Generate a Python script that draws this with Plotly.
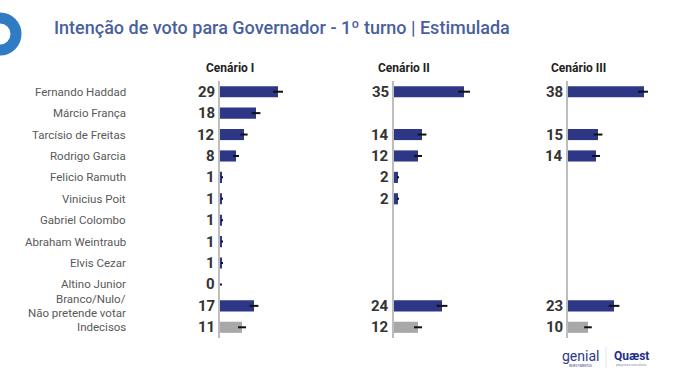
import plotly.graph_objects as go

W, H = 680, 383

categories = ["Fernando Haddad", "Márcio França", "Tarcísio de Freitas", "Rodrigo Garcia",
              "Felicio Ramuth", "Vinicius Poit", "Gabriel Colombo", "Abraham Weintraub",
              "Elvis Cezar", "Altino Junior", "Branco/Nulo/<br>Não pretende votar", "Indecisos"]
scenarios = ["Cenário I", "Cenário II", "Cenário III"]

values_c1 = [29, 18, 12, 8, 1, 1, 1, 1, 1, 0, 17, 11]
values_c2 = [35, None, 14, 12, 2, 2, None, None, None, None, 24, 12]
values_c3 = [38, None, 15, 14, None, None, None, None, None, None, 23, 10]

err_c1 = [2.5, 2.2, 1.8, 1.5, 0.5, 0.5, 0.5, 0.5, 0.5, 1.0, 2.2, 2.0]
err_c2 = [3.0, None, 2.2, 2.0, 0.5, 0.5, None, None, None, None, 2.7, 2.0]
err_c3 = [3.0, None, 2.2, 2.0, None, None, None, None, None, None, 2.7, 1.9]

values = [values_c1, values_c2, values_c3]
errors = [err_c1, err_c2, err_c3]

NAVY = "#2e3785"
GREY = "#a8a8a8"
bar_colors = [NAVY] * 11 + [GREY]

# panel geometry (pixels)
axis_px = [220, 394, 568]
panel_w = 80
xmax = 40
y_top_px, y_bot_px = 81, 338

fig = go.Figure()

for i in range(3):
    xa = "x" if i == 0 else f"x{i+1}"
    ya = "y" if i == 0 else f"y{i+1}"
    xs, ys, es, cs = [], [], [], []
    for j, v in enumerate(values[i]):
        if v is None:
            continue
        xs.append(v); ys.append(j); es.append(errors[i][j]); cs.append(bar_colors[j])
    fig.add_trace(go.Bar(
        x=xs, y=ys, orientation="h", marker=dict(color=cs, line=dict(width=0)),
        width=0.52, xaxis=xa, yaxis=ya, showlegend=False, hoverinfo="skip",
        error_x=dict(type="data", array=es, visible=True, color="#111111",
                     thickness=2, width=0),
    ))
    for v, yj in zip(xs, ys):
        fig.add_annotation(x=0, y=yj, xref=xa, yref=ya, text=f"<b>{v}</b>", showarrow=False,
                           xanchor="right", yanchor="middle", xshift=-3,
                           font=dict(family="Roboto", size=15, color="#333333"))
    dom_x = [axis_px[i] / W, (axis_px[i] + panel_w) / W]
    dom_y = [1 - y_bot_px / H, 1 - y_top_px / H]
    ax_kw = dict(domain=dom_x, range=[0, xmax], showgrid=False, zeroline=False,
                 showticklabels=False, ticks="", fixedrange=True)
    ay_kw = dict(domain=dom_y, range=[len(categories) - 0.5, -0.5], showgrid=False,
                 zeroline=False, showticklabels=False, ticks="", showline=True,
                 linecolor="#bdbdbd", linewidth=2, fixedrange=True,
                 anchor=xa)
    if i == 0:
        fig.update_layout(xaxis=dict(anchor="y", **ax_kw), yaxis=ay_kw)
    else:
        fig.update_layout(**{f"xaxis{i+1}": dict(anchor=ya, **ax_kw), f"yaxis{i+1}": ay_kw})
    fig.add_annotation(x=(axis_px[i] + 10) / W, y=1 - 68 / H, xref="paper", yref="paper",
                       text=f"<b>{scenarios[i]}</b>", showarrow=False,
                       font=dict(family="Roboto", size=12, color="#222222"),
                       xanchor="center", yanchor="middle")

# category labels
for j, c in enumerate(categories):
    lines = c.split("<br>")
    n = len(lines)
    for k, ln in enumerate(lines):
        fig.add_annotation(x=128 / W, y=j, xref="paper", yref="y", text=ln, showarrow=False,
                           xanchor="right", yanchor="middle", align="right",
                           yshift=(n - 1) * 7 - k * 14,
                           font=dict(family="Roboto", size=11.5, color="#595959"))

# title
fig.add_annotation(x=52 / W, y=1 - 27 / H, xref="paper", yref="paper",
                   text="Intenção de voto para Governador - 1º turno | Estimulada",
                   showarrow=False, xanchor="left", yanchor="middle",
                   font=dict(family="Roboto", size=18, color="#4a5f9e", weight=500))

# decorative ring
fig.add_shape(type="circle", xref="paper", yref="paper",
              x0=-16 / W, x1=16 / W, y0=1 - 50 / H, y1=1 - 18 / H,
              line=dict(color="#2f7bc4", width=11), fillcolor="rgba(0,0,0,0)")

# logos
fig.add_annotation(x=580 / W, y=1 - 356 / H, xref="paper", yref="paper", text="genial",
                   showarrow=False, xanchor="center", yanchor="middle",
                   font=dict(family="Roboto", size=14, color="#2e3785"))
fig.add_annotation(x=580 / W, y=1 - 366 / H, xref="paper", yref="paper", text="INVESTIMENTOS",
                   showarrow=False, xanchor="center", yanchor="middle",
                   font=dict(family="Roboto", size=3, color="#2e3785"))
fig.add_shape(type="line", xref="paper", yref="paper", x0=606 / W, x1=606 / W,
              y0=1 - 368 / H, y1=1 - 347 / H, line=dict(color="#e6e6e6", width=1))
fig.add_annotation(x=631 / W, y=1 - 356 / H, xref="paper", yref="paper", text="<b>Quæst</b>",
                   showarrow=False, xanchor="center", yanchor="middle",
                   font=dict(family="Roboto", size=12, color="#1f2d8a"))
fig.add_annotation(x=631 / W, y=1 - 365 / H, xref="paper", yref="paper",
                   text="pesquisa e consultoria", showarrow=False, xanchor="center",
                   yanchor="middle", font=dict(family="Roboto", size=3, color="#8890b8"))

fig.update_layout(width=W, height=H, margin=dict(l=0, r=0, t=0, b=0),
                  paper_bgcolor="white", plot_bgcolor="white", bargap=0.5)

fig.write_html("out.html", config={"displayModeBar": False},
               post_script="document.body.style.margin='0';")
